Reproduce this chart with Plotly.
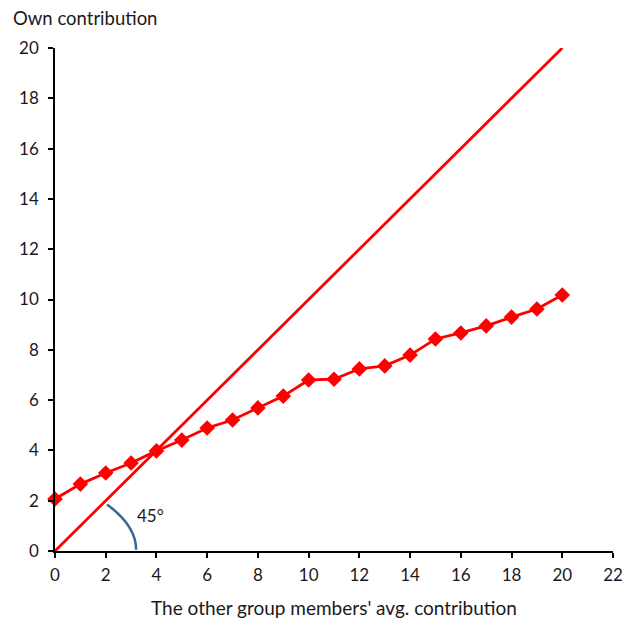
import plotly.graph_objects as go

# Eigenbeitrag abhängig vom durchschnittlichen Beitrag der anderen
others_avg = list(range(0, 21))
own_contrib = [2.07, 2.66, 3.10, 3.50, 3.98, 4.41, 4.89, 5.21, 5.69, 6.16, 6.80,
               6.83, 7.24, 7.36, 7.79, 8.43, 8.67, 8.95, 9.30, 9.62, 10.18]

diag_x = [0, 20]
diag_y = [0, 20]

x_ticks = list(range(0, 23, 2))
y_ticks = list(range(0, 21, 2))

FONT = "Lato, 'DejaVu Sans', sans-serif"
RED = "#ff0000"
TXT = "#1a1a1a"

fig = go.Figure()

# 45-Grad-Linie
fig.add_trace(go.Scatter(
    x=diag_x, y=diag_y, mode="lines",
    line=dict(color=RED, width=2.8),
    showlegend=False, hoverinfo="skip", cliponaxis=False
))

# beobachtete Beiträge
fig.add_trace(go.Scatter(
    x=others_avg, y=own_contrib, mode="lines+markers",
    line=dict(color=RED, width=2.8),
    marker=dict(symbol="diamond", size=12, color=RED),
    showlegend=False, cliponaxis=False
))

# Winkelbogen
fig.add_shape(
    type="path", xref="x", yref="y",
    path="M 2.05 1.85 Q 3.2 1.0 3.2 0.05",
    line=dict(color="#3b6594", width=2.5)
)
fig.add_annotation(
    x=3.75, y=1.43, xref="x", yref="y", text="45°", showarrow=False,
    font=dict(family=FONT, size=17, color=TXT)
)

fig.add_annotation(
    x=0, y=1, xref="paper", yref="paper", xanchor="left", yanchor="middle",
    xshift=-44, yshift=30, text="Own contribution", showarrow=False,
    font=dict(family=FONT, size=18.5, color=TXT)
)

fig.update_xaxes(
    range=[0, 22], tickvals=x_ticks, showgrid=False, zeroline=False,
    showline=True, linecolor="black", linewidth=1.5, automargin=False,
    ticks="outside", ticklen=5, tickcolor="black", tickwidth=1.5,
    ticklabelstandoff=3,
    tickfont=dict(family=FONT, size=17, color=TXT),
    title=dict(text="The other group members' avg. contribution",
               font=dict(family=FONT, size=19, color=TXT), standoff=18)
)
fig.update_yaxes(
    range=[0, 20], tickvals=y_ticks, showgrid=False, zeroline=False,
    showline=True, linecolor="black", linewidth=1.5, automargin=False,
    ticks="outside", ticklen=5, tickcolor="black", tickwidth=1.5,
    ticklabelstandoff=6,
    tickfont=dict(family=FONT, size=17, color=TXT)
)

fig.update_layout(
    width=623, height=619,
    margin=dict(l=55, r=10, t=48, b=68),
    paper_bgcolor="white", plot_bgcolor="white"
)

# Seitenrand des Browsers entfernen
fig.write_html("out.html", config={"displayModeBar": False},
               post_script="document.body.style.margin='0';")
